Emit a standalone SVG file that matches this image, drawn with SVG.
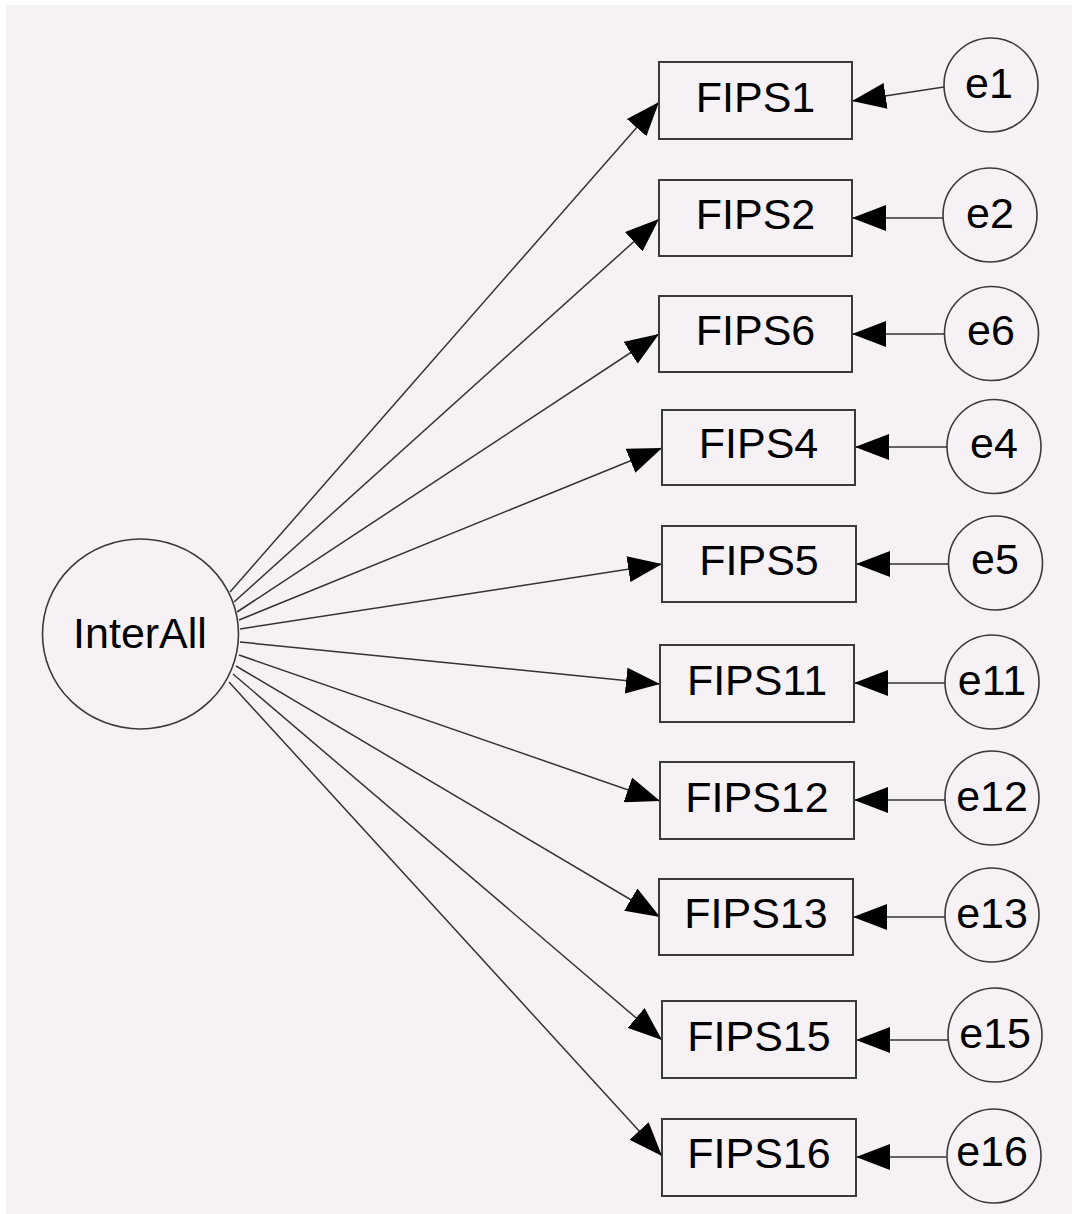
<svg xmlns="http://www.w3.org/2000/svg" width="1072" height="1214" viewBox="0 0 1072 1214">
<defs>
<style>
.bg{fill:#f6f1f5}
.box{fill:none;stroke:#3a3a3a;stroke-width:2}
.circ{fill:none;stroke:#3a3a3a;stroke-width:1.6}
.lbl{font-family:"Liberation Sans",Arial,sans-serif;font-size:43px;fill:#000;text-anchor:middle}
.conn line{stroke:#333;stroke-width:1.5;marker-end:url(#ah)}
</style>
<marker id="ah" markerUnits="userSpaceOnUse" markerWidth="34" markerHeight="26" refX="34" refY="13" orient="auto" viewBox="0 0 34 26">
<path d="M0,0 L34,13 L0,26 Z" fill="#000"/>
</marker>
</defs>
<rect x="0" y="0" width="1072" height="1214" fill="#ffffff"/>
<rect class="bg" x="6" y="5" width="1066" height="1209"/>

<g id="connectors" class="conn">
<line x1="230" y1="592" x2="659" y2="102"/>
<line x1="234" y1="602" x2="659" y2="219"/>
<line x1="237" y1="612" x2="659" y2="334"/>
<line x1="239" y1="620" x2="662" y2="448"/>
<line x1="240" y1="629" x2="662" y2="564"/>
<line x1="240" y1="642" x2="660" y2="684"/>
<line x1="239" y1="655" x2="660" y2="801"/>
<line x1="236" y1="666" x2="660" y2="917"/>
<line x1="233" y1="674" x2="662" y2="1040"/>
<line x1="229" y1="682" x2="662" y2="1156"/>
<line x1="944" y1="87" x2="852" y2="101"/>
<line x1="943" y1="218" x2="852" y2="218"/>
<line x1="944" y1="334" x2="852" y2="334"/>
<line x1="947" y1="447" x2="855" y2="447"/>
<line x1="948" y1="564" x2="856" y2="564"/>
<line x1="945" y1="683" x2="854" y2="683"/>
<line x1="945" y1="800" x2="854" y2="800"/>
<line x1="945" y1="917" x2="853" y2="917"/>
<line x1="948" y1="1040" x2="856" y2="1040"/>
<line x1="946" y1="1157" x2="856" y2="1157"/>
</g>

<g id="InterAll"><ellipse class="circ" cx="140.5" cy="634" rx="98" ry="95"/><text class="lbl" x="140" y="648">InterAll</text></g>

<g id="FIPS1"><rect class="box" x="659" y="62" width="193" height="77"/><text class="lbl" x="755.5" y="112">FIPS1</text></g>
<g id="FIPS2"><rect class="box" x="659" y="180" width="193" height="76"/><text class="lbl" x="755.5" y="229">FIPS2</text></g>
<g id="FIPS6"><rect class="box" x="659" y="296" width="193" height="76"/><text class="lbl" x="755.5" y="345">FIPS6</text></g>
<g id="FIPS4"><rect class="box" x="662" y="410" width="193" height="75"/><text class="lbl" x="758.5" y="458">FIPS4</text></g>
<g id="FIPS5"><rect class="box" x="662" y="526" width="194" height="76"/><text class="lbl" x="759" y="575">FIPS5</text></g>
<g id="FIPS11"><rect class="box" x="660" y="645" width="194" height="77"/><text class="lbl" x="757" y="695">FIPS11</text></g>
<g id="FIPS12"><rect class="box" x="660" y="762" width="194" height="77"/><text class="lbl" x="757" y="812">FIPS12</text></g>
<g id="FIPS13"><rect class="box" x="659" y="879" width="194" height="76"/><text class="lbl" x="756" y="928">FIPS13</text></g>
<g id="FIPS15"><rect class="box" x="662" y="1001" width="194" height="77"/><text class="lbl" x="759" y="1051">FIPS15</text></g>
<g id="FIPS16"><rect class="box" x="662" y="1119" width="194" height="77"/><text class="lbl" x="759" y="1168">FIPS16</text></g>

<g id="e1"><circle class="circ" cx="991" cy="85" r="47"/><text class="lbl" x="989" y="98">e1</text></g>
<g id="e2"><circle class="circ" cx="990" cy="215" r="47"/><text class="lbl" x="990" y="228">e2</text></g>
<g id="e6"><circle class="circ" cx="991.5" cy="333.5" r="47"/><text class="lbl" x="991" y="345">e6</text></g>
<g id="e4"><circle class="circ" cx="994" cy="446.5" r="47"/><text class="lbl" x="994" y="458">e4</text></g>
<g id="e5"><circle class="circ" cx="995.5" cy="563" r="47"/><text class="lbl" x="995" y="574">e5</text></g>
<g id="e11"><circle class="circ" cx="992" cy="682" r="47"/><text class="lbl" x="992" y="695">e11</text></g>
<g id="e12"><circle class="circ" cx="992" cy="798" r="47"/><text class="lbl" x="992" y="811">e12</text></g>
<g id="e13"><circle class="circ" cx="992" cy="915" r="47"/><text class="lbl" x="992" y="928">e13</text></g>
<g id="e15"><circle class="circ" cx="995" cy="1035" r="47"/><text class="lbl" x="995" y="1048">e15</text></g>
<g id="e16"><circle class="circ" cx="994" cy="1156" r="47"/><text class="lbl" x="992" y="1166">e16</text></g>
</svg>
